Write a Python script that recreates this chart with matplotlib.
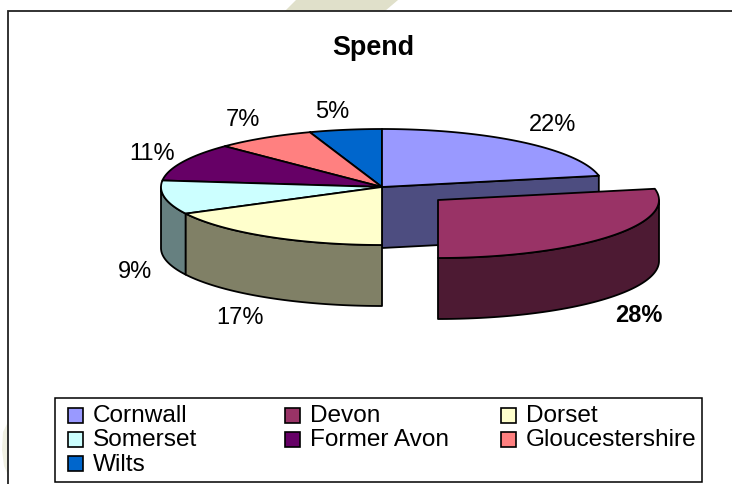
import numpy as np
import matplotlib
matplotlib.use("Agg")
import matplotlib.pyplot as plt
from matplotlib.patches import Polygon, Rectangle

# data
regions = ["Cornwall", "Devon", "Dorset", "Somerset", "Former Avon", "Gloucestershire", "Wilts"]
spend = [21.9, 28.1, 17.4, 9.4, 10.6, 7.3, 5.3]
top_colours = ["#9999FF", "#993366", "#FFFFCC", "#CCFFFF", "#660066", "#FF8080", "#0066CC"]
side_colours = ["#4D4D80", "#4D1A33", "#808066", "#668080", "#330033", "#804040", "#003366"]
title = "Spend"
label_pos = [(553, 125), (639, 315.5), (240, 318), (135, 272), (152, 154), (242.5, 120), (332, 112.5)]

# pie geometry, in pixels of the picture
cx, cy = 382, 187
rx, ry = 221, 58
depth = 61
devon_shift = (56, 13)

plt.rcParams["font.family"] = ["Liberation Sans", "DejaVu Sans"]

fig = plt.figure(figsize=(7.32, 4.84), dpi=100, facecolor="white")
ax = fig.add_axes([0, 0, 1, 1])
ax.set_xlim(0, 732)
ax.set_ylim(484, 0)
ax.axis("off")

# faint watermark behind the chart
ax.add_patch(Polygon([(285, 11), (296, 0), (398, 0), (385, 11)], fc="#E0E0CA", ec="none"))
ax.add_patch(Polygon([(8, 422), (3, 432), (2, 450), (4, 466), (8, 475)], fc="#F0F0E2", ec="none"))

# chart frame, runs off the right and bottom of the picture
ax.plot([8, 8, 740], [490, 11, 11], color="#222222", lw=1.3, solid_joinstyle="miter")


def arc(a0, a1, ox=0, oy=0, drop=0):
    # angles in degrees, clockwise from the top of the pie
    t = np.radians(np.linspace(a0, a1, 80))
    return np.column_stack([cx + ox + rx * np.sin(t), cy + oy + drop - ry * np.cos(t)])


def slice_faces(i, a0, a1, ox=0, oy=0):
    lw = 1.3
    # outer rim, only the part facing the viewer
    r0, r1 = max(a0, 90), min(a1, 270)
    if r0 < r1:
        upper = arc(r0, r1, ox, oy)
        lower = arc(r1, r0, ox, oy, depth)
        ax.add_patch(Polygon(np.vstack([upper, lower]), fc=side_colours[i], ec="black", lw=lw, joinstyle="round"))
    top = np.vstack([[(cx + ox, cy + oy)], arc(a0, a1, ox, oy)])
    ax.add_patch(Polygon(top, fc=top_colours[i], ec="black", lw=lw, joinstyle="round"))


edges = 360 * np.cumsum([0] + spend) / sum(spend)

# cut face of Cornwall, left open by the exploded slice
end = arc(edges[1], edges[1])[0]
ax.add_patch(Polygon([(cx, cy), end, (end[0], end[1] + depth), (cx, cy + depth)],
                     fc=side_colours[0], ec="black", lw=1.3))

# back to front: Devon goes last so it sits over the cut face
for i in [6, 5, 4, 0, 3, 2, 1]:
    if i == 1:
        slice_faces(i, edges[i], edges[i + 1], *devon_shift)
    else:
        slice_faces(i, edges[i], edges[i + 1])

ax.text(373.5, 55, title, ha="center", va="baseline", fontsize=19.4, fontweight="bold")

for i, v in enumerate(spend):
    ax.text(label_pos[i][0], label_pos[i][1], "%d%%" % round(v), ha="center", va="center",
            fontsize=17, fontweight="bold" if i == 1 else "normal")

# legend laid out row by row, three to a row
swatch_y = [407.5, 432, 455.5]
text_y = [422, 446.5, 471]
ax.add_patch(Rectangle((55, 398), 647, 84, fc="white", ec="black", lw=1.1))
for i, name in enumerate(regions):
    col, row = i % 3, i // 3
    x = 68 + 216.5 * col
    ax.add_patch(Rectangle((x, swatch_y[row]), 15, 15, fc=top_colours[i], ec="black", lw=1.2))
    ax.text(x + 25, text_y[row], name, ha="left", va="baseline", fontsize=17.6)

fig.savefig("out.png", dpi=100)
